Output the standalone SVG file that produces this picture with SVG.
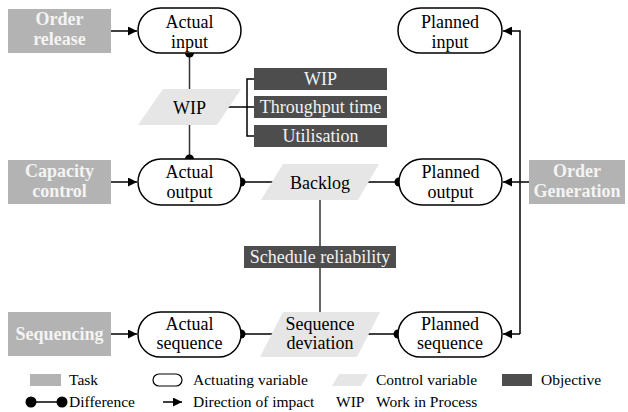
<svg xmlns="http://www.w3.org/2000/svg" width="628" height="412" viewBox="0 0 628 412" font-family="Liberation Serif, Times New Roman, serif">
<defs>
<style>
.task{fill:#b3b3b3}
.tt{font-weight:bold;font-size:18px;fill:#f4f4f4;text-anchor:middle}
.act{fill:#fff;stroke:#000;stroke-width:1.5}
.ctl{fill:#e6e6e6}
.obj{fill:#4d4d4d}
.ot{font-size:18px;fill:#f2f2f2;text-anchor:middle}
.nt{font-size:18px;fill:#000;text-anchor:middle}
.lt{font-size:15.5px;fill:#000}
.ln{fill:none;stroke:#000;stroke-width:1.5}
.gl{fill:none;stroke:#333;stroke-width:1.5}
.dot{fill:#000}
</style>
<marker id="arr" viewBox="0 0 10 10" refX="10" refY="5" markerWidth="9" markerHeight="9" markerUnits="userSpaceOnUse" orient="auto">
<path d="M0,0 L10,5 L0,10 Z" fill="#000"/>
</marker>
</defs>
<rect width="628" height="412" fill="#fff"/>
<g id="connectors">
<line class="ln" x1="111" y1="31" x2="137" y2="31" marker-end="url(#arr)"/>
<line class="ln" x1="111" y1="182" x2="137" y2="182" marker-end="url(#arr)"/>
<line class="ln" x1="111" y1="334" x2="137" y2="334" marker-end="url(#arr)"/>
<line class="ln" x1="529" y1="182" x2="503" y2="182" marker-end="url(#arr)"/>
<polyline class="ln" points="520,334 520,31 503,31" marker-end="url(#arr)"/>
<line class="ln" x1="520" y1="334" x2="503" y2="334" marker-end="url(#arr)"/>
<line class="gl" x1="189.5" y1="53" x2="189.5" y2="159"/>
<circle class="dot" cx="189.5" cy="53" r="4.5"/>
<circle class="dot" cx="189.5" cy="159" r="4.5"/>
<line class="ln" x1="241" y1="182" x2="275" y2="182"/>
<line class="ln" x1="365" y1="182" x2="399" y2="182"/>
<circle class="dot" cx="241" cy="182" r="4.5"/>
<circle class="dot" cx="399" cy="182" r="4.5"/>
<line class="ln" x1="241" y1="334" x2="275" y2="334"/>
<line class="ln" x1="365" y1="334" x2="398" y2="334"/>
<circle class="dot" cx="241" cy="334" r="4.5"/>
<circle class="dot" cx="398" cy="334" r="4.5"/>
<line class="gl" x1="320" y1="195" x2="320" y2="316"/>
<line class="ln" x1="225" y1="107" x2="247" y2="107"/>
<polyline class="ln" points="254,79 247,79 247,136 254,136"/>
<line class="ln" x1="247" y1="107" x2="254" y2="107"/>
</g>
<g id="order-release"><rect class="task" x="8" y="9" width="103" height="44"/><text class="tt" x="59.5" y="25">Order</text><text class="tt" x="59.5" y="45">release</text></g>
<g id="capacity-control"><rect class="task" x="8" y="160" width="103" height="44"/><text class="tt" x="59.5" y="177">Capacity</text><text class="tt" x="59.5" y="197">control</text></g>
<g id="sequencing"><rect class="task" x="8" y="312" width="103" height="44"/><text class="tt" x="59.5" y="340">Sequencing</text></g>
<g id="order-generation"><rect class="task" x="529" y="160" width="96" height="44"/><text class="tt" x="577" y="177">Order</text><text class="tt" x="577" y="197">Generation</text></g>
<g id="actual-input"><rect class="act" x="138" y="8" width="103" height="45" rx="22.5"/><text class="nt" x="189.5" y="28">Actual</text><text class="nt" x="189.5" y="48">input</text></g>
<g id="planned-input"><rect class="act" x="398" y="8" width="104" height="45" rx="22.5"/><text class="nt" x="450" y="28">Planned</text><text class="nt" x="450" y="48">input</text></g>
<g id="actual-output"><rect class="act" x="138" y="159" width="103" height="46" rx="23"/><text class="nt" x="189.5" y="178">Actual</text><text class="nt" x="189.5" y="198">output</text></g>
<g id="planned-output"><rect class="act" x="399" y="159" width="103" height="46" rx="23"/><text class="nt" x="450.5" y="178">Planned</text><text class="nt" x="450.5" y="198">output</text></g>
<g id="actual-sequence"><rect class="act" x="138" y="312" width="103" height="45" rx="22.5"/><text class="nt" x="189.5" y="330">Actual</text><text class="nt" x="189.5" y="349">sequence</text></g>
<g id="planned-sequence"><rect class="act" x="398" y="312" width="104" height="45" rx="22.5"/><text class="nt" x="450" y="330">Planned</text><text class="nt" x="450" y="349">sequence</text></g>
<g id="wip"><polygon class="ctl" points="163,89 241,89 217,125 138,125"/><text class="nt" x="189.5" y="114">WIP</text></g>
<g id="backlog"><polygon class="ctl" points="283,164 379,164 358,200 261,200"/><text class="nt" x="320" y="189">Backlog</text></g>
<g id="sequence-deviation"><polygon class="ctl" points="283,312 380,312 357,357 260,357"/><text class="nt" x="320" y="330">Sequence</text><text class="nt" x="320" y="349">deviation</text></g>
<g id="obj-wip"><rect class="obj" x="254" y="68" width="133" height="22"/><text class="ot" x="320.5" y="85">WIP</text></g>
<g id="obj-throughput"><rect class="obj" x="254" y="96" width="133" height="22"/><text class="ot" x="320.5" y="113">Throughput time</text></g>
<g id="obj-utilisation"><rect class="obj" x="254" y="125" width="133" height="22"/><text class="ot" x="320.5" y="142">Utilisation</text></g>
<g id="obj-schedule"><rect class="obj" x="244" y="246" width="152" height="22"/><text class="ot" x="320" y="263">Schedule reliability</text></g>
<g id="legend">
<rect class="task" x="30" y="374" width="31" height="12"/>
<text class="lt" x="69" y="385">Task</text>
<rect x="153" y="374" width="29" height="12" rx="6" fill="#fff" stroke="#000" stroke-width="1.2"/>
<text class="lt" x="193" y="385">Actuating variable</text>
<polygon class="ctl" points="339,374 368,374 361,386 332,386"/>
<text class="lt" x="376" y="385">Control variable</text>
<rect class="obj" x="502" y="374" width="30" height="12"/>
<text class="lt" x="541" y="385">Objective</text>
<line class="ln" x1="31" y1="402" x2="62" y2="402"/>
<circle class="dot" cx="31" cy="402" r="5.5"/>
<circle class="dot" cx="62" cy="402" r="5.5"/>
<text class="lt" x="69" y="407">Difference</text>
<line class="ln" x1="163" y1="402" x2="182" y2="402" marker-end="url(#arr)"/>
<text class="lt" x="193" y="407">Direction of impact</text>
<text class="lt" x="336" y="407">WIP</text>
<text class="lt" x="376" y="407">Work in Process</text>
</g>
</svg>
